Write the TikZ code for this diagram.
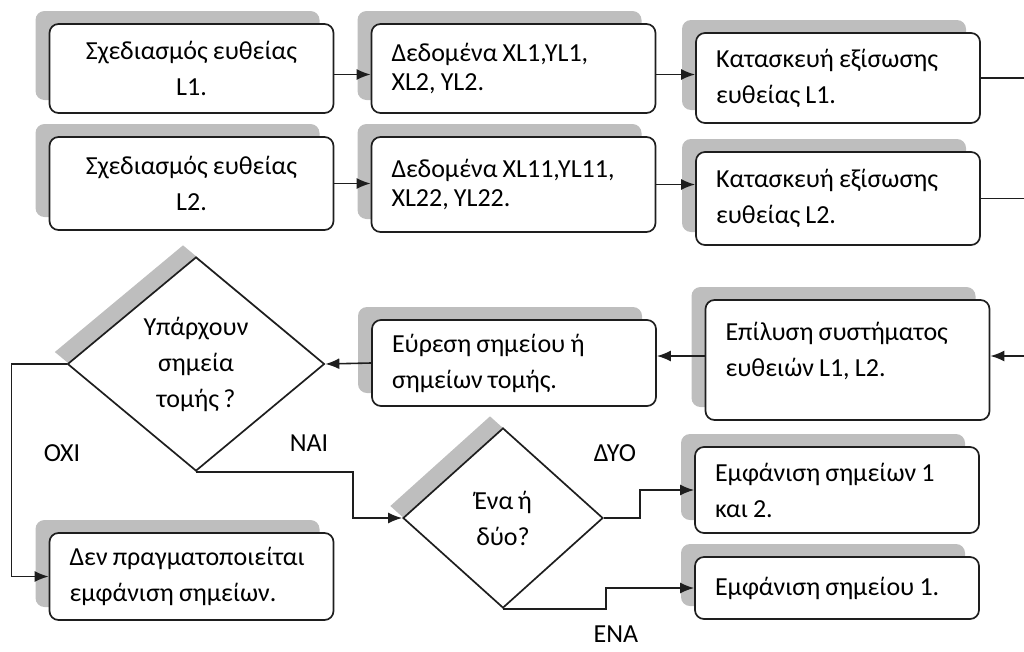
\documentclass[tikz,border=0pt]{standalone}
\usepackage{fontspec}
\setmainfont{Carlito}[WordSpace=0.75]
\usetikzlibrary{shapes.geometric,shadows,arrows.meta}
\definecolor{skia}{RGB}{190,190,190}
\definecolor{molyvi}{RGB}{30,30,30}

\begin{document}
\begin{tikzpicture}[x=1pt, y=-1pt,
    font=\fontsize{26}{36}\selectfont, text=black,
    kouti/.style={draw=molyvi, line width=1.7pt, rounded corners=9pt, fill=white,
        minimum width=284pt, inner xsep=20pt, inner ysep=0pt, text width=244pt, align=left,
        execute at begin node={\spaceskip=0.2em\relax},
        general shadow={fill=skia, shadow xshift=-14pt, shadow yshift=13pt}},
    rombos/.style={diamond, draw=molyvi, line width=1.7pt, fill=white, inner sep=0pt, align=center,
        general shadow={fill=skia, shadow xshift=-13pt, shadow yshift=12pt}},
    velos/.style={draw=molyvi, line width=1.6pt, -{Latex[length=14pt,width=11pt]}},
    syndesi/.style={draw=molyvi, line width=1.6pt}]
    \useasboundingbox (0,0) rectangle (1024,651);

    % Πρώτη σειρά
    \node[kouti, align=center, minimum height=89pt] (sxed1) at (191.5,68.5) {Σχεδιασμός ευθείας\\L1.};
    \node[kouti, minimum height=89pt, font=\fontsize{26}{29}\selectfont] (dedom1) at (513.5,68.5) {Δεδομένα XL1,YL1,\\XL2, YL2.};
    \node[kouti, minimum height=90pt] (katask1) at (838,78) {Κατασκευή εξίσωσης\\ευθείας L1.};
    \coordinate (exo1) at (1024,78);

    % Δεύτερη σειρά
    \node[kouti, align=center, minimum height=93pt] (sxed2) at (191.5,183.5) {Σχεδιασμός ευθείας\\L2.};
    \node[kouti, minimum height=95pt, font=\fontsize{26}{29}\selectfont] (dedom2) at (513.5,184.5) {Δεδομένα XL11,YL11,\\XL22, YL22.};
    \node[kouti, minimum height=93pt] (katask2) at (838,198.5) {Κατασκευή εξίσωσης\\ευθείας L2.};
    \coordinate (exo2) at (1024,198.5);

    % Λύση συστήματος και τομή
    \node[kouti, minimum height=120pt] (epilysi) at (847.5,360) {Επίλυση συστήματος\\ευθειών L1, L2.\\[-14pt]\mbox{}};
    \coordinate (eisodos) at (1024,356);
    \node[kouti, minimum height=86pt] (eyresi) at (514,363) {Εύρεση σημείου ή\\σημείων τομής.};
    \node[rombos, minimum width=257pt, minimum height=214pt] (yparxoun) at (196,364) {Υπάρχουν\\σημεία\\τομής ?};
    \node[rombos, minimum width=200pt, minimum height=180pt] (enaduo) at (503,518) {Ένα ή\\δύο?};

    % Αποτελέσματα
    \node[kouti, minimum height=87pt] (den) at (191.5,576.5) {Δεν πραγματοποιείται\\εμφάνιση σημείων.};
    \node[kouti, minimum height=86pt] (emf2) at (837,490) {Εμφάνιση σημείων 1\\και 2.};
    \node[kouti, minimum height=62pt] (emf1) at (837,588) {Εμφάνιση σημείου 1.};

    % Βέλη
    \draw[velos] ([yshift=-6pt]sxed1.east) -- ([yshift=-6pt]sxed1.east -| dedom1.west);
    \draw[velos] ([yshift=-6pt]dedom1.east) -- ([yshift=-6pt]dedom1.east -| katask1.west);
    \draw[syndesi] (katask1.east) -- (exo1);
    \draw[velos] (sxed2.east) -- (sxed2.east -| dedom2.west);
    \draw[velos] (dedom2.east) -- (dedom2.east -| katask2.west);
    \draw[syndesi] (katask2.east) -- (exo2);
    \draw[velos] (eisodos) -- (eisodos -| epilysi.east);
    \draw[velos] ([yshift=4pt]epilysi.west) -- ([yshift=4pt]epilysi.west -| eyresi.east);
    \draw[velos] (eyresi.west) -- (yparxoun.east);
    \draw[velos] (yparxoun.west) -- ++(-55,0) |- (den.west);
    \draw[velos] (yparxoun.south) -- ++(157,0) |- (enaduo.west);
    \draw[velos] (enaduo.east) -- ++(36,0) |- (emf2.west);
    \draw[velos] (enaduo.south) -- ++(103,0) |- (emf1.west);

    % Ετικέτες
    \node (oxi) at (62,453) {ΟΧΙ};
    \node (nai) at (309,443) {ΝΑΙ};
    \node (dyo) at (615,453) {ΔΥΟ};
    \node (ena) at (616,634) {ΕΝΑ};
\end{tikzpicture}
\end{document}
